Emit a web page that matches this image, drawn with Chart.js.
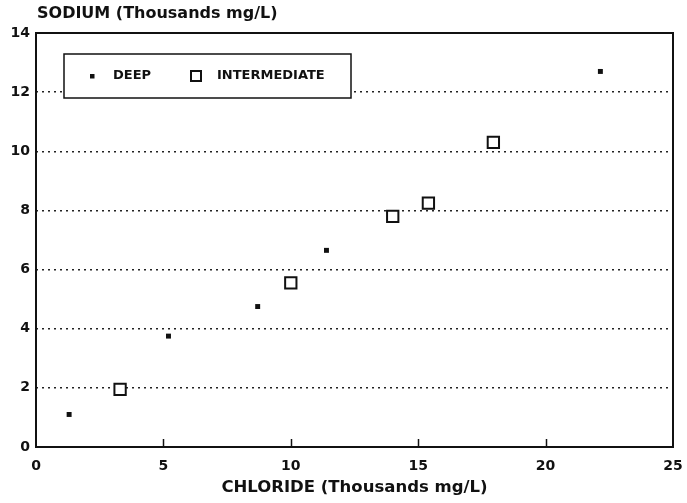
<!DOCTYPE html>
<html>
<head>
<meta charset="utf-8">
<script src="https://cdn.jsdelivr.net/npm/chart.js@4.4.1/dist/chart.umd.min.js"></script>
<style>
  html, body { margin: 0; padding: 0; background: #fff; }
</style>
</head>
<body>
<canvas id="scatterChart" width="687" height="503"></canvas>
<script>
'use strict'

// values (thousands mg/L)
const deepChloride = [1.3, 5.2, 8.7, 11.4, 22.15];
const deepSodium = [1.1, 3.75, 4.75, 6.65, 12.7];
const intermediateChloride = [3.3, 10.0, 14.0, 15.4, 17.95];
const intermediateSodium = [1.95, 5.55, 7.8, 8.25, 10.3];
const xTicks = [0, 5, 10, 15, 20, 25];
const yTicks = [0, 2, 4, 6, 8, 10, 12, 14];
const seriesNames = ['DEEP', 'INTERMEDIATE'];

const ink = '#111';
const fontFamily = "'DejaVu Sans', 'Liberation Sans', sans-serif";

function toPoints(xs, ys) {
  return xs.map(function(x, i) { return {x: x, y: ys[i]}; });
}

// frame round the plot and the short inward ticks on the bottom axis
const framePlugin = {
  id: 'frame',
  beforeDatasetsDraw: function(chart) {
    const ctx = chart.ctx;
    const a = chart.chartArea;
    const xs = chart.scales.x;
    ctx.save();
    ctx.strokeStyle = ink;
    ctx.lineWidth = 2;
    ctx.strokeRect(a.left, a.top, a.right - a.left, a.bottom - a.top);
    ctx.lineWidth = 1.5;
    xTicks.slice(1, -1).forEach(function(v) {
      const px = Math.round(xs.getPixelForValue(v)) + 0.5;
      ctx.beginPath();
      ctx.moveTo(px, a.bottom);
      ctx.lineTo(px, a.bottom - 8);
      ctx.stroke();
    });
    ctx.restore();
  }
};

// boxed legend inside the plot, and the y title above the axis
const legendBoxPlugin = {
  id: 'legendBox',
  afterDatasetsDraw: function(chart) {
    const ctx = chart.ctx;
    const a = chart.chartArea;
    const left = a.left + 28, top = a.top + 21, w = 287, h = 44;
    const cy = top + h / 2;
    ctx.save();
    ctx.fillStyle = '#fff';
    ctx.fillRect(left, top, w, h);
    ctx.strokeStyle = ink;
    ctx.lineWidth = 1.5;
    ctx.strokeRect(left, top, w, h);

    ctx.fillStyle = ink;
    ctx.fillRect(left + 26, cy - 2, 4.5, 4.5);
    ctx.lineWidth = 2;
    ctx.strokeRect(left + 127, cy - 5, 10, 10);

    ctx.font = 'bold 13px ' + fontFamily;
    ctx.textBaseline = 'middle';
    ctx.textAlign = 'left';
    ctx.fillText(seriesNames[0], left + 49, cy);
    ctx.fillText(seriesNames[1], left + 153, cy);
    ctx.restore();
  },
  afterDraw: function(chart) {
    const ctx = chart.ctx;
    ctx.save();
    ctx.fillStyle = ink;
    ctx.font = 'bold 16px ' + fontFamily;
    ctx.textBaseline = 'middle';
    ctx.textAlign = 'left';
    ctx.fillText('SODIUM (Thousands mg/L)', chart.chartArea.left + 1, 14);
    ctx.restore();
  }
};

const ctx = document.getElementById('scatterChart').getContext('2d');
const scatterChart = new Chart(ctx, {
  type: 'scatter',
  data: {
    datasets: [
      {
        label: seriesNames[0],
        data: toPoints(deepChloride, deepSodium),
        pointStyle: 'rect',
        pointRadius: 3.5,
        backgroundColor: ink,
        borderColor: ink,
        borderWidth: 0
      },
      {
        label: seriesNames[1],
        data: toPoints(intermediateChloride, intermediateSodium),
        pointStyle: 'rect',
        pointRadius: 8,
        backgroundColor: '#fff',
        borderColor: ink,
        borderWidth: 2
      }
    ]
  },
  plugins: [framePlugin, legendBoxPlugin],
  options: {
    responsive: false,
    animation: false,
    layout: {
      padding: {top: 33, right: 14, left: 0, bottom: 0}
    },
    scales: {
      x: {
        type: 'linear',
        min: 0,
        max: 25,
        afterFit: function(scale) {
          scale.height = 56;
          scale.paddingLeft = 0;
          scale.paddingRight = 0;
        },
        afterBuildTicks: function(scale) {
          scale.ticks = xTicks.map(function(v) { return {value: v}; });
        },
        border: {display: false},
        grid: {display: false, drawTicks: false},
        ticks: {
          padding: 11,
          color: ink,
          font: {family: fontFamily, size: 14, weight: 'bold'}
        },
        title: {
          display: true,
          text: 'CHLORIDE (Thousands mg/L)',
          color: ink,
          padding: {top: 2, bottom: 5},
          font: {family: fontFamily, size: 16.5, weight: 'bold'}
        }
      },
      y: {
        type: 'linear',
        min: 0,
        max: 14,
        afterFit: function(scale) {
          scale.width = 36;
          scale.paddingTop = 0;
          scale.paddingBottom = 0;
        },
        afterBuildTicks: function(scale) {
          scale.ticks = yTicks.map(function(v) { return {value: v}; });
        },
        border: {display: false},
        grid: {
          drawTicks: false,
          lineWidth: 1.5,
          color: function(c) {
            const v = c.tick ? c.tick.value : 0;
            return (v === 0 || v === 14) ? 'rgba(0,0,0,0)' : '#222';
          }
        },
        ticks: {
          padding: 6,
          color: ink,
          font: {family: fontFamily, size: 14, weight: 'bold'}
        }
      }
    },
    plugins: {
      legend: {display: false},
      tooltip: {enabled: false}
    }
  }
});
// dotted grid lines
scatterChart.options.scales.y.grid.borderDash = [2, 4];
scatterChart.options.scales.y.border.dash = [2, 4];
scatterChart.update();
</script>
</body>
</html>
